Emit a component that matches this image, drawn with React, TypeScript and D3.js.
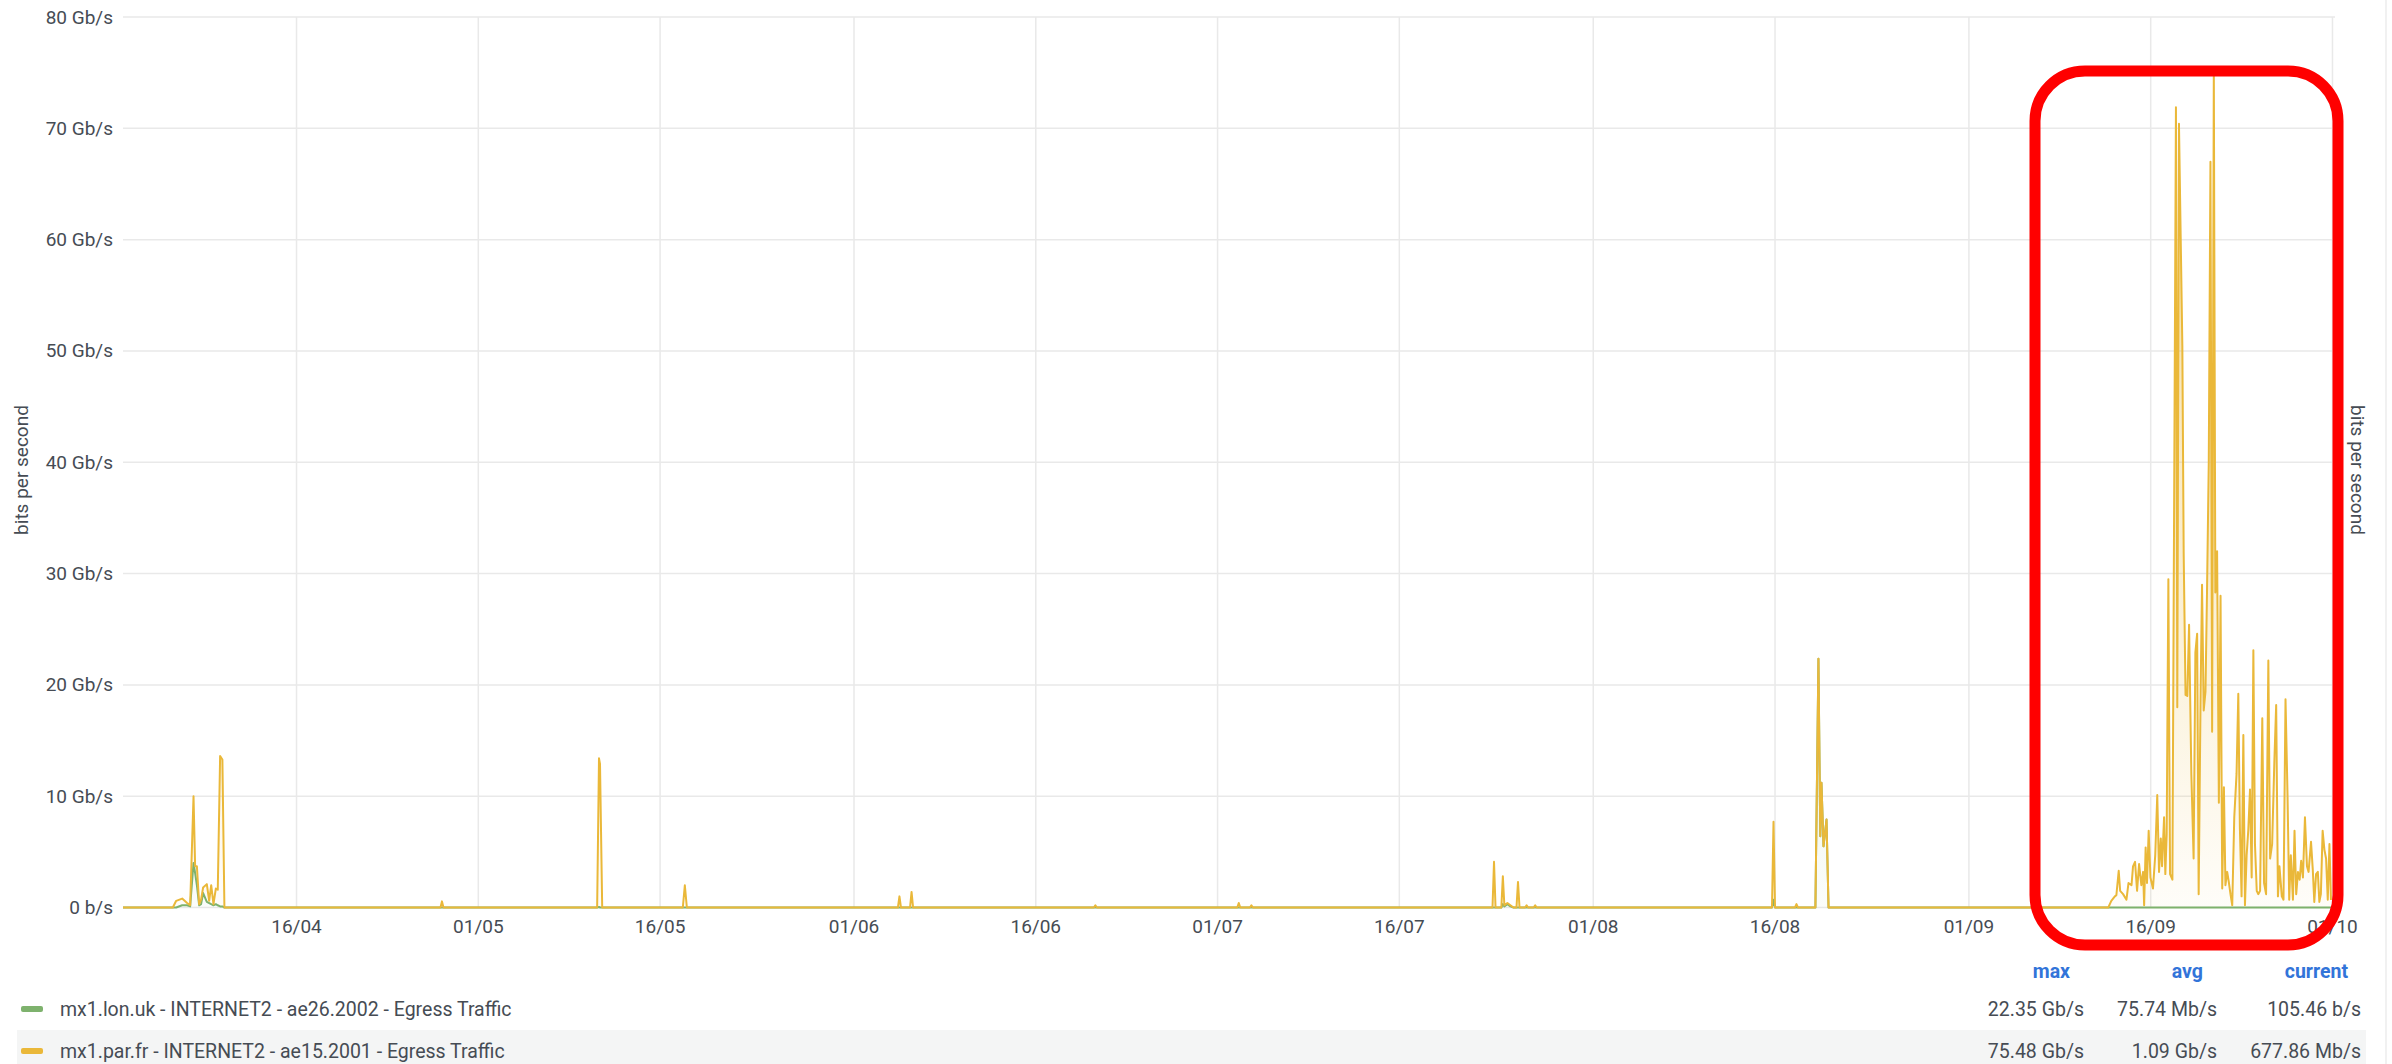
import React from "react";
import * as d3 from "d3";

const W = 2392;
const H = 1064;

// sample times (2023, MM-DD HH:mm), shared by both series
const times = [
  // start of range + early April burst
  "04-01 16:20", "04-05 19:00", "04-06 01:40", "04-06 13:30", "04-06 23:20", "04-07 05:20", "04-07 12:00",
  "04-07 15:10", "04-07 18:40", "04-07 23:10", "04-08 03:00", "04-08 07:00", "04-08 14:20", "04-08 19:00",
  "04-08 23:00", "04-09 03:30", "04-09 08:10", "04-09 12:00", "04-09 16:40", "04-09 21:10", "04-10 01:10",
  // isolated spikes April - early July
  "04-27 21:00", "04-28 00:00", "04-28 03:00",
  "05-10 19:20", "05-10 23:00", "05-11 01:00", "05-11 05:20",
  "05-17 21:00", "05-18 01:00", "05-18 05:00",
  "06-04 15:00", "06-04 18:00", "06-04 21:00",
  "06-05 15:00", "06-05 18:00", "06-05 21:00",
  "06-20 19:00", "06-20 22:00", "06-21 01:00",
  "07-02 15:00", "07-02 18:00", "07-02 21:00",
  "07-03 16:00", "07-03 19:00", "07-03 22:00",
  // late July
  "07-23 16:30", "07-23 19:30", "07-23 22:30",
  "07-24 10:00", "07-24 13:00", "07-24 16:00", "07-24 22:00", "07-25 04:00", "07-25 10:00",
  "07-25 16:00", "07-25 19:00", "07-25 22:00",
  "07-26 09:00", "07-26 12:00", "07-26 15:00",
  "07-27 02:00", "07-27 05:00", "07-27 08:00",
  // August
  "08-15 18:00", "08-15 21:00", "08-16 00:00",
  "08-17 15:30", "08-17 18:30", "08-17 21:30",
  "08-19 08:00", "08-19 14:00", "08-19 17:40", "08-19 20:00", "08-20 00:00", "08-20 06:00", "08-20 10:00",
  // September surge
  "09-12 12:00", "09-12 18:00", "09-12 21:30", "09-13 01:00", "09-13 04:00", "09-13 08:40", "09-13 11:30", "09-13 17:20", "09-14 00:00", "09-14 04:00",
  "09-14 10:00", "09-14 13:00", "09-14 17:00", "09-14 21:00", "09-15 01:00", "09-15 05:30", "09-15 09:00", "09-15 11:00", "09-15 14:00", "09-15 16:40",
  "09-15 20:00", "09-15 23:30", "09-16 04:30", "09-16 09:00", "09-16 13:00", "09-16 16:30", "09-16 20:00", "09-16 22:30", "09-17 02:30", "09-17 05:00",
  "09-17 07:40", "09-17 11:00", "09-17 14:20", "09-17 19:00", "09-18 02:00", "09-18 04:40", "09-18 08:00", "09-18 14:40", "09-18 17:20", "09-18 21:00",
  "09-19 00:30", "09-19 04:00", "09-19 08:30", "09-19 13:00", "09-19 16:30", "09-19 20:00", "09-19 23:00", "09-20 03:00", "09-20 05:40", "09-20 09:00",
  "09-20 12:30", "09-20 15:30", "09-20 19:00", "09-20 22:20", "09-21 01:40", "09-21 05:00", "09-21 08:00", "09-21 11:30", "09-21 15:00", "09-21 18:20",
  "09-21 21:40", "09-22 01:00", "09-22 04:00", "09-22 07:30", "09-22 11:00", "09-22 14:00", "09-22 17:30", "09-22 21:30", "09-23 02:00", "09-23 05:30",
  "09-23 08:40", "09-23 12:00", "09-23 15:30", "09-23 18:40", "09-23 22:00", "09-24 01:20", "09-24 04:40", "09-24 08:00", "09-24 11:20", "09-24 14:30",
  "09-24 18:00", "09-24 21:00", "09-25 00:40", "09-25 05:00", "09-25 08:30", "09-25 12:30", "09-25 17:00", "09-25 20:30", "09-26 00:30", "09-26 05:00",
  "09-26 08:30", "09-26 12:00", "09-26 15:00", "09-26 19:40", "09-26 23:00", "09-27 03:00", "09-27 07:00", "09-27 10:20", "09-27 13:30", "09-27 17:40",
  "09-27 20:50", "09-28 00:10", "09-28 03:40", "09-28 07:00", "09-28 10:00", "09-28 13:30", "09-28 17:30", "09-28 21:30", "09-29 00:40", "09-29 05:30",
  "09-29 09:00", "09-29 12:00", "09-29 15:30", "09-29 19:00", "09-29 22:00", "09-30 01:00", "09-30 04:30", "09-30 08:00", "09-30 11:20", "09-30 14:40",
  "09-30 18:00", "09-30 21:00",
];

// mx1.lon.uk egress, Gb/s
const lonUk = [
  0, 0, 0, 0.2, 0.2, 0.1, 4.0,
  3.1, 2.0, 0.2, 0.3, 1.3, 0.5, 0.4,
  0.3, 0.2, 0.3, 0.2, 0.1, 0.1, 0,
  0, 0, 0,
  0, 0.05, 0, 0,
  0, 0, 0,
  0, 0, 0,
  0, 0, 0,
  0, 0, 0,
  0, 0, 0,
  0, 0, 0,
  0, 0, 0,
  0, 0.3, 0.1, 0.3, 0.1, 0,
  0, 0, 0,
  0, 0, 0,
  0, 0, 0,
  0, 0.7, 0,
  0, 0, 0,
  0, 22.35, 6.4, 11.2, 5.5, 7.9, 0,
  0, 0, 0, 0, 0, 0, 0, 0, 0, 0,
  0, 0, 0, 0, 0, 0, 0, 0, 0, 0,
  0, 0, 0, 0, 0, 0, 0, 0, 0, 0,
  0, 0, 0, 0, 0, 0, 0, 0, 0, 0,
  0, 0, 0, 0, 0, 0, 0, 0, 0, 0,
  0, 0, 0, 0, 0, 0, 0, 0, 0, 0,
  0, 0, 0, 0, 0, 0, 0, 0, 0, 0,
  0, 0, 0, 0, 0, 0, 0, 0, 0, 0,
  0, 0, 0, 0, 0, 0, 0, 0, 0, 0,
  0, 0, 0, 0, 0, 0, 0, 0, 0, 0,
  0, 0, 0, 0, 0, 0, 0, 0, 0, 0,
  0, 0, 0, 0, 0, 0, 0, 0, 0, 0,
  0, 0,
];

// mx1.par.fr egress, Gb/s (stacked on top of lon.uk)
const parFr = [
  0, 0, 0.6, 0.6, 0.2, 0.1, 6.0,
  0.6, 1.7, 0.1, 0.4, 0.5, 1.6, 0.2,
  1.7, 0.1, 1.4, 1.4, 13.5, 13.2, 0,
  0, 0.55, 0,
  0, 13.35, 12.9, 0,
  0, 2.0, 0,
  0, 1.0, 0,
  0, 1.4, 0,
  0, 0.2, 0,
  0, 0.4, 0,
  0, 0.2, 0,
  0, 4.1, 0,
  0, 2.5, 0.1, 0.1, 0.1, 0,
  0, 2.3, 0,
  0, 0.2, 0,
  0, 0.2, 0,
  0, 7.0, 0,
  0, 0.3, 0,
  0, 0, 0, 0, 0, 0, 0,
  0, 0.6, 0.8, 1.0, 1.1, 3.3, 1.5, 1.2, 0.7, 2.2,
  2.0, 3.7, 4.1, 1.5, 3.9, 2.0, 3.2, 0.2, 5.4, 2.2,
  6.9, 2.7, 1.7, 4.7, 10.1, 3.2, 6.2, 3.7, 8.1, 3.0,
  6.6, 29.5, 3.0, 2.5, 71.9, 18.0, 70.4, 50.5, 31.8, 19.1,
  19.0, 25.4, 12.0, 4.4, 22.9, 24.6, 1.2, 19.9, 29.0, 17.7,
  19.4, 28.3, 40.0, 67.0, 15.8, 75.48, 28.3, 32.0, 9.4, 28.0,
  1.7, 10.8, 2.0, 3.2, 2.2, 1.2, 0.2, 8.1, 12.0, 19.2,
  7.1, 1.0, 15.5, 0.2, 4.7, 7.0, 10.6, 2.7, 23.1, 5.7,
  1.5, 1.2, 1.5, 17.0, 2.2, 1.2, 22.2, 4.4, 5.7, 13.3,
  18.2, 1.0, 3.7, 1.0, 0.7, 18.7, 10.1, 0.7, 4.7, 0.7,
  6.9, 1.2, 3.2, 2.5, 4.2, 2.7, 8.1, 3.7, 3.2, 5.9,
  3.4, 0.5, 3.0, 3.2, 0.5, 1.2, 6.9, 5.2, 4.4, 0.7,
  5.7, 0.68,
];

const rangeStart = "04-01 16:20";
const rangeEnd = "10-01 05:00";
const xTickLabels = ["16/04", "01/05", "16/05", "01/06", "16/06", "01/07", "16/07", "01/08", "16/08", "01/09", "16/09", "01/10"];
const yTicks = [0, 10, 20, 30, 40, 50, 60, 70, 80];

const seriesNames = [
  "mx1.lon.uk - INTERNET2 - ae26.2002 - Egress Traffic",
  "mx1.par.fr - INTERNET2 - ae15.2001 - Egress Traffic",
];
const seriesColors = ["#7EB26D", "#EAB839"];
const legendHeaders = ["max", "avg", "current"];
const legendValues = [
  ["22.35 Gb/s", "75.74 Mb/s", "105.46 b/s"],
  ["75.48 Gb/s", "1.09 Gb/s", "677.86 Mb/s"],
];

const FONT = "Roboto, 'Noto Sans', sans-serif";
const TEXT = "#464c54";

export default function App() {
  const parse = d3.timeParse("%Y-%m-%d %H:%M");
  const parseTick = d3.timeParse("%d/%m/%Y");

  const rows = times.map((t, i) => ({
    date: parse(`2023-${t}`) as Date,
    lon: lonUk[i] ?? 0,
    par: parFr[i] ?? 0,
  }));
  const stacked = d3.stack<any>().keys(["lon", "par"])(rows);

  const left = 123;
  const right = 2335;
  const top = 17;
  const bottom = 907.5;

  const x = d3
    .scaleTime()
    .domain([parse(`2023-${rangeStart}`) as Date, parse(`2023-${rangeEnd}`) as Date])
    .range([left, right]);
  const y = d3.scaleLinear().domain([0, 80]).range([bottom, top]);

  const line = d3
    .line<any>()
    .x((d) => x(d.data.date))
    .y((d) => y(d[1]));
  const area = d3
    .area<any>()
    .x((d) => x(d.data.date))
    .y0((d) => y(d[0]))
    .y1((d) => y(d[1]));

  const yLabel = (v: number) => (v === 0 ? "0 b/s" : `${v} Gb/s`);
  const tickDates = xTickLabels.map((l) => parseTick(`${l}/2023`) as Date);

  const valueRight = [2084, 2217, 2361];
  const headerRight = [2070, 2203, 2348];
  const rowY = [1009, 1051];

  return (
    <svg
      width={W}
      height={H}
      style={{ position: "absolute", left: 0, top: 0, background: "#fff" }}
      fontFamily={FONT}
    >
      <defs>
        {seriesColors.map((c, i) => (
          <linearGradient key={i} id={`fill${i}`} gradientUnits="userSpaceOnUse" x1={0} x2={0} y1={top} y2={bottom}>
            <stop offset="0%" stopColor={c} stopOpacity={0.55} />
            <stop offset="100%" stopColor={c} stopOpacity={0.03} />
          </linearGradient>
        ))}
        <clipPath id="plot">
          <rect x={left} y={top - 2} width={right - left} height={bottom - top + 4} />
        </clipPath>
      </defs>

      {/* grid */}
      <g stroke="#e9e9e9" strokeWidth={1.5}>
        {yTicks.map((v) => (
          <line key={v} x1={left} x2={right} y1={y(v)} y2={y(v)} />
        ))}
        {tickDates.map((d, i) => (
          <line key={i} x1={x(d)} x2={x(d)} y1={top} y2={bottom} />
        ))}
      </g>

      {/* y axis labels */}
      <g fontSize={19} fill={TEXT} textAnchor="end">
        {yTicks.map((v) => (
          <text key={v} x={113} y={y(v)} dominantBaseline="central">
            {yLabel(v)}
          </text>
        ))}
      </g>

      {/* x axis labels */}
      <g fontSize={19} fill={TEXT} textAnchor="middle">
        {tickDates.map((d, i) => (
          <text key={i} x={x(d)} y={926} dominantBaseline="central">
            {xTickLabels[i]}
          </text>
        ))}
      </g>

      {/* axis titles */}
      <text
        transform="translate(21,470) rotate(-90)"
        textAnchor="middle"
        dominantBaseline="central"
        fontSize={19}
        fill={TEXT}
      >
        bits per second
      </text>
      <text
        transform="translate(2357,470) rotate(90)"
        textAnchor="middle"
        dominantBaseline="central"
        fontSize={19}
        fill={TEXT}
      >
        bits per second
      </text>

      {/* series */}
      <g clipPath="url(#plot)">
        {stacked.map((s, i) => (
          <path key={`a${i}`} d={area(s) || ""} fill={`url(#fill${i})`} />
        ))}
        {stacked.map((s, i) => (
          <path
            key={`l${i}`}
            d={line(s) || ""}
            fill="none"
            stroke={seriesColors[i]}
            strokeWidth={2}
            strokeLinejoin="round"
          />
        ))}
      </g>

      {/* legend */}
      <rect x={17} y={1030} width={2349} height={40} fill="#f4f5f5" />
      <g fontSize={19.5} fontWeight={700} fill="#3274d9" textAnchor="end">
        {legendHeaders.map((h, i) => (
          <text key={h} x={headerRight[i]} y={971} dominantBaseline="central">
            {h}
          </text>
        ))}
      </g>
      {seriesNames.map((name, r) => (
        <g key={name} fontSize={19.5} fill={TEXT}>
          <rect x={21} y={rowY[r] - 3} width={22} height={6} rx={2} fill={seriesColors[r]} />
          <text x={60} y={rowY[r]} dominantBaseline="central">
            {name}
          </text>
          {legendValues[r].map((v, c) => (
            <text key={c} x={valueRight[c]} y={rowY[r]} dominantBaseline="central" textAnchor="end">
              {v}
            </text>
          ))}
        </g>
      ))}

      {/* panel edge */}
      <line x1={2386} x2={2386} y1={0} y2={H} stroke="#ececec" strokeWidth={1.5} />

      {/* highlight annotation */}
      <rect x={2035} y={71} width={303} height={874} rx={50} ry={50} fill="none" stroke="#ff0000" strokeWidth={11} />
    </svg>
  );
}
